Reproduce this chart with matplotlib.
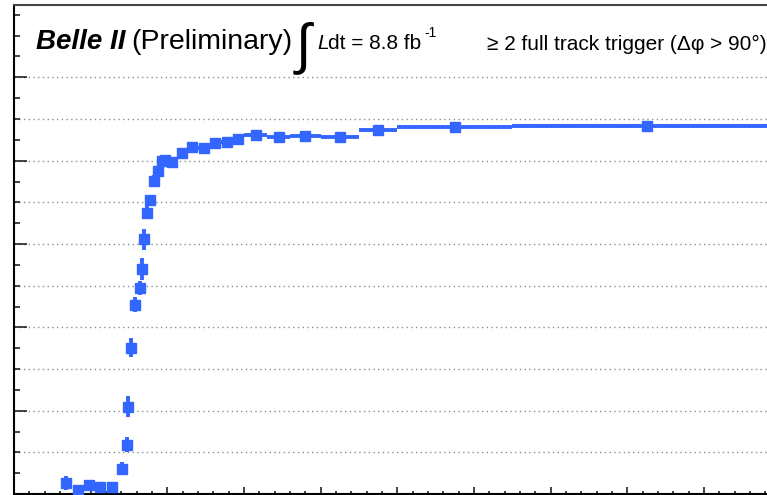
import numpy as np
import matplotlib
matplotlib.use("Agg")
import matplotlib.pyplot as plt
from matplotlib.ticker import MultipleLocator, NullFormatter

plt.rcParams['font.family'] = ['Liberation Sans', 'DejaVu Sans']

# efficiency points (bin centre, half width, value, error)
x = [0.68, 0.83, 0.98, 1.12, 1.28, 1.41, 1.47, 1.49, 1.52, 1.58, 1.64,
     1.665, 1.69, 1.73, 1.775, 1.825, 1.875, 1.925, 1.975, 2.0625, 2.1875,
     2.325, 2.475, 2.625, 2.775, 2.925, 3.15, 3.45, 3.8, 4.25, 4.75, 5.75, 8.25]
x_half = [0.05, 0.05, 0.05, 0.05, 0.05, 0.03, 0.02, 0.02, 0.02, 0.02, 0.02,
          0.02, 0.02, 0.02, 0.025, 0.025, 0.025, 0.025, 0.025, 0.0625, 0.0625,
          0.075, 0.075, 0.075, 0.075, 0.075, 0.15, 0.15, 0.2, 0.25, 0.25, 0.75, 1.75]
eff = [0.026, 0.010, 0.022, 0.016, 0.017, 0.061, 0.118, 0.210, 0.351, 0.454, 0.495,
       0.540, 0.611, 0.675, 0.706, 0.752, 0.776, 0.798, 0.802, 0.797, 0.819,
       0.834, 0.831, 0.842, 0.846, 0.852, 0.862, 0.858, 0.860, 0.858, 0.874, 0.882, 0.883]
eff_err = [0.017, 0.012, 0.012, 0.010, 0.010, 0.015, 0.018, 0.025, 0.023, 0.018, 0.017,
           0.027, 0.026, 0.015, 0.012, 0.014, 0.012, 0.012, 0.012, 0.010, 0.010,
           0.008, 0.008, 0.008, 0.008, 0.008, 0.006, 0.006, 0.006, 0.006, 0.005, 0.004, 0.004]

grid_y = [0.1, 0.2, 0.3, 0.4, 0.5, 0.6, 0.7, 0.8, 0.9, 1.0]

W, H = 767, 495
fig = plt.figure(figsize=(W / 100, H / 100), dpi=100)
ax = fig.add_axes([14 / W, 1 / H, (W - 14) / W, 489 / H])

blue = '#3366ff'
for g in grid_y:
    ax.axhline(g, color='#8c8c8c', lw=1, ls=(0, (1, 2.4)), zorder=1)

ax.errorbar(x, eff, xerr=x_half, yerr=eff_err, fmt='s', color=blue,
            ms=7, elinewidth=2.8, capsize=0, zorder=3)

ax.set_xlim(0, 9.821)
ax.set_ylim(0, 1.1736)

ax.xaxis.set_major_locator(MultipleLocator(1))
ax.xaxis.set_minor_locator(MultipleLocator(0.2))
ax.yaxis.set_major_locator(MultipleLocator(0.2))
ax.yaxis.set_minor_locator(MultipleLocator(0.05))
ax.xaxis.set_major_formatter(NullFormatter())
ax.yaxis.set_major_formatter(NullFormatter())
ax.tick_params(which='both', direction='in', colors='#222222', width=1.2)
ax.tick_params(axis='x', which='major', length=5)
ax.tick_params(axis='x', which='minor', length=2.5)
ax.tick_params(axis='y', which='major', length=9)
ax.tick_params(axis='y', which='minor', length=4.5)

ax.spines['right'].set_visible(False)
ax.spines['left'].set_linewidth(1.5)
ax.spines['bottom'].set_linewidth(1.5)
ax.spines['top'].set_linewidth(1.5)
ax.spines['top'].set_color('#444444')


def px(xp, yp):
    return xp / W, 1 - yp / H


fig.text(*px(36, 49), 'Belle II', fontsize=20, fontweight='bold', style='italic')
fig.text(*px(131, 49), '(Preliminary)', fontsize=20.5)
fig.text(*px(296, 62), '\u222b', fontsize=40)
fig.text(*px(317, 49), 'L', fontsize=15, style='italic')
fig.text(*px(328, 49), 'dt = 8.8 fb', fontsize=15)
fig.text(*px(424, 37), '-1', fontsize=10)
fig.text(*px(487, 50), '\u2265 2 full track trigger (\u0394\u03c6 > 90\u00b0)', fontsize=15)

fig.savefig('out.png', dpi=100)
